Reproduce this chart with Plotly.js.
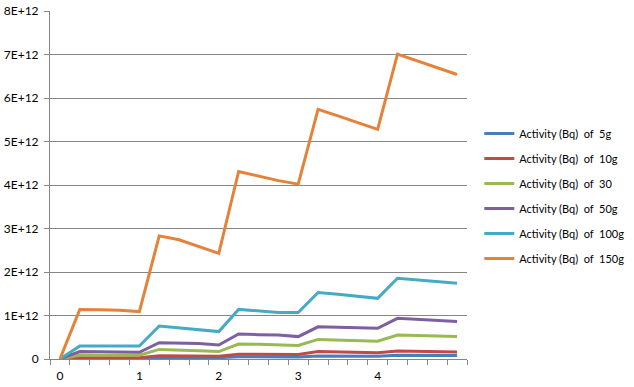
<!DOCTYPE html>
<html>
<head>
<meta charset="utf-8">
<script src="https://cdn.plot.ly/plotly-3.0.1.min.js"></script>
<style>html,body{margin:0;padding:0;background:#fff;}#chart{width:634px;height:387px;}</style>
</head>
<body>
<div id="chart"></div>
<script>
// Time categories (x) — 21 points, labels shown every 4th
const times = [0,0.25,0.5,0.75,1,1.25,1.5,1.75,2,2.25,2.5,2.75,3,3.25,3.5,3.75,4,4.25,4.5,4.75,5];
const xTickVals = [0,1,2,3,4];
const xTickText = ['0','1','2','3','4'];

// Activity values (units of 1e12 Bq)
const act5g   = [0,0.014,0.014,0.013,0.013,0.034,0.033,0.031,0.030,0.052,0.050,0.049,0.048,0.069,0.067,0.065,0.063,0.085,0.083,0.081,0.079];
const act10g  = [0,0.030,0.030,0.029,0.029,0.074,0.072,0.068,0.064,0.112,0.109,0.107,0.105,0.170,0.160,0.150,0.145,0.183,0.178,0.172,0.160];
const act30   = [0,0.090,0.089,0.087,0.085,0.220,0.210,0.190,0.170,0.345,0.340,0.330,0.310,0.450,0.440,0.430,0.410,0.550,0.545,0.530,0.520];
const act50g  = [0,0.170,0.165,0.160,0.155,0.375,0.370,0.355,0.320,0.575,0.560,0.550,0.515,0.740,0.730,0.720,0.705,0.935,0.910,0.885,0.860];
const act100g = [0,0.300,0.300,0.300,0.300,0.760,0.720,0.670,0.630,1.140,1.110,1.070,1.070,1.530,1.490,1.440,1.395,1.855,1.820,1.790,1.740];
const act150g = [0,1.140,1.130,1.120,1.090,2.830,2.740,2.580,2.430,4.310,4.200,4.100,4.020,5.740,5.590,5.430,5.280,7.010,6.850,6.690,6.540];

const seriesNames = ['Activity (Bq)\u00a0 of\u00a0 5g','Activity (Bq)\u00a0 of\u00a0 10g','Activity (Bq)\u00a0 of\u00a0 30','Activity (Bq)\u00a0 of\u00a0 50g','Activity (Bq)\u00a0 of\u00a0 100g','Activity (Bq)\u00a0 of\u00a0 150g'];
const seriesData = [act5g, act10g, act30, act50g, act100g, act150g];
const colors = ['#4A7EBB','#BE4B48','#98B954','#7D60A0','#46AAC5','#E5823A'];

const yTickVals = [0,1e12,2e12,3e12,4e12,5e12,6e12,7e12,8e12];
const yTickText = ['0','1E+12','2E+12','3E+12','4E+12','5E+12','6E+12','7E+12','8E+12'];

const traces = seriesData.map((d,i)=>({
  x: times,
  y: d.map(v=>v*1e12),
  type:'scatter', mode:'lines',
  name: seriesNames[i],
  legendgroup: 'g'+i,
  line:{color:colors[i], width:3}
}));

const grid = '#868686';
const layout = {
  width:634, height:387,
  margin:{l:50, r:167.3, t:11, b:28, autoexpand:false},
  paper_bgcolor:'#fff', plot_bgcolor:'#fff',
  font:{family:'Lato, "Liberation Sans", sans-serif', size:11, color:'#000'},
  showlegend:true,
  legend:{x:1.0295, y:0.69, xanchor:'left', yanchor:'top', font:{size:11, family:'Lato, sans-serif'}, tracegroupgap:6, itemwidth:30, bgcolor:'rgba(0,0,0,0)'},
  xaxis:{
    range:[-0.125,5.125], tickmode:'array', tickvals:xTickVals, ticktext:xTickText,
    ticks:'', showgrid:false, zeroline:false, showline:true, linecolor:grid, linewidth:1,
    minor:{tickmode:'linear', tick0:-0.125, dtick:0.25, ticks:'outside', ticklen:5, tickcolor:grid, showgrid:false},
    tickfont:{size:12}, ticklabelstandoff:6
  },
  yaxis:{
    range:[0,8e12], tickmode:'array', tickvals:yTickVals, ticktext:yTickText,
    ticks:'outside', ticklen:5, tickcolor:grid, showgrid:true, gridcolor:grid, gridwidth:1,
    zeroline:false, showline:true, linecolor:grid, linewidth:1,
    tickfont:{size:12}, ticklabelstandoff:3
  }
};
Plotly.newPlot('chart', traces, layout, {displayModeBar:false, staticPlot:true});
</script>
</body>
</html>
